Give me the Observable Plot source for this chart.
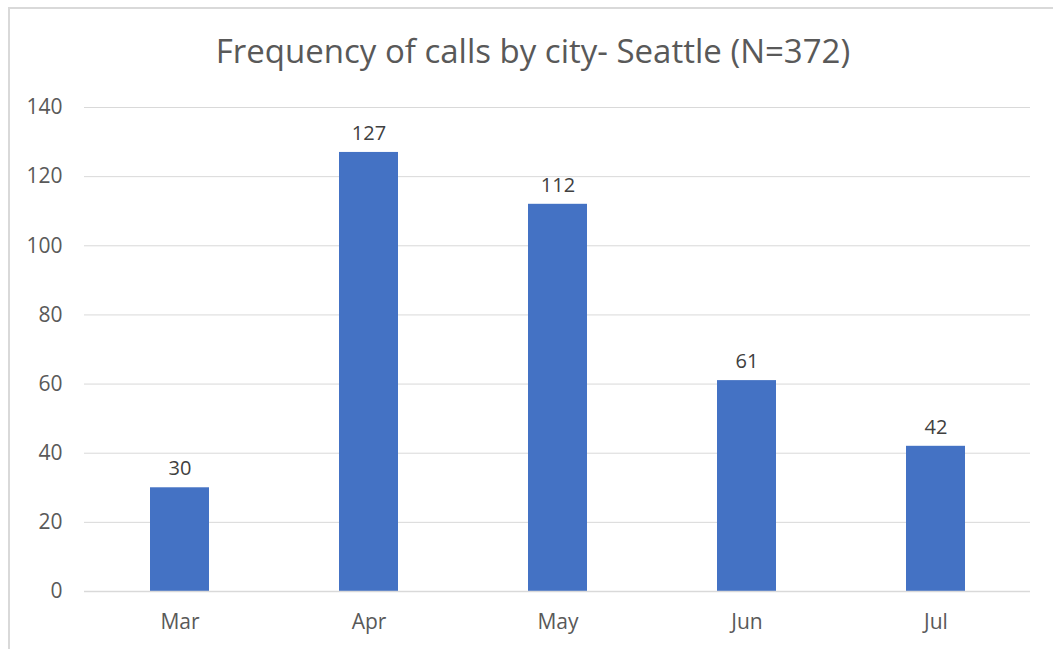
<!DOCTYPE html>
<html>
<head>
<meta charset="utf-8">
<script src="https://cdn.jsdelivr.net/npm/d3@7"></script>
<script src="https://cdn.jsdelivr.net/npm/@observablehq/plot@0.6"></script>
<style>
  html, body { margin: 0; padding: 0; background: #fff; overflow: hidden; }
  #wrap { position: relative; width: 1053px; height: 649px; }
  #frame { position: absolute; left: 8px; top: 7px; width: 1060px; height: 660px; border: 2px solid #d9d9d9; box-sizing: border-box; }
  #title { position: absolute; left: 0; width: 1066px; top: 34px; line-height: 1; text-align: center; font-family: "Open Sans", sans-serif; font-size: 33px; color: #595959; white-space: nowrap; }
  #chart { position: absolute; left: 0; top: 0; }
</style>
</head>
<body>
<div id="wrap">
  <div id="frame"></div>
  <div id="title">Frequency of calls by city- Seattle (N=372)</div>
  <div id="chart"></div>
</div>
<script>
const months = ["Mar", "Apr", "May", "Jun", "Jul"];
const calls = [30, 127, 112, 61, 42];
const yTicks = [0, 20, 40, 60, 80, 100, 120, 140];

const data = months.map((m, i) => ({month: m, calls: calls[i]}));

const chart = Plot.plot({
  width: 1053,
  height: 649,
  marginLeft: 84,
  marginRight: 23,
  marginTop: 107,
  marginBottom: 58,
  style: { fontFamily: "Open Sans, sans-serif", fontSize: "21px", color: "#595959", background: "transparent" },
  x: { domain: months, paddingInner: 0.69, paddingOuter: 0.345, label: null },
  y: { domain: [0, 140], ticks: yTicks, label: null },
  marks: [
    Plot.ruleY(yTicks.filter(d => d > 0), { stroke: "#d9d9d9", strokeWidth: 1 }),
    Plot.barY(data, { x: "month", y: "calls", fill: "#4472C4" }),
    Plot.ruleY([0], { stroke: "#d9d9d9", strokeWidth: 1.5 }),
    Plot.text(data, { x: "month", y: "calls", text: d => String(d.calls), dy: -19, fill: "#404040", fontSize: 20 }),
    Plot.axisY({ ticks: yTicks, tickSize: 0, tickPadding: 22, fontSize: 21, fill: "#595959" }),
    Plot.axisX({ tickSize: 0, tickPadding: 23, fontSize: 21, fill: "#595959" })
  ]
});
document.getElementById("chart").appendChild(chart);
</script>
</body>
</html>
